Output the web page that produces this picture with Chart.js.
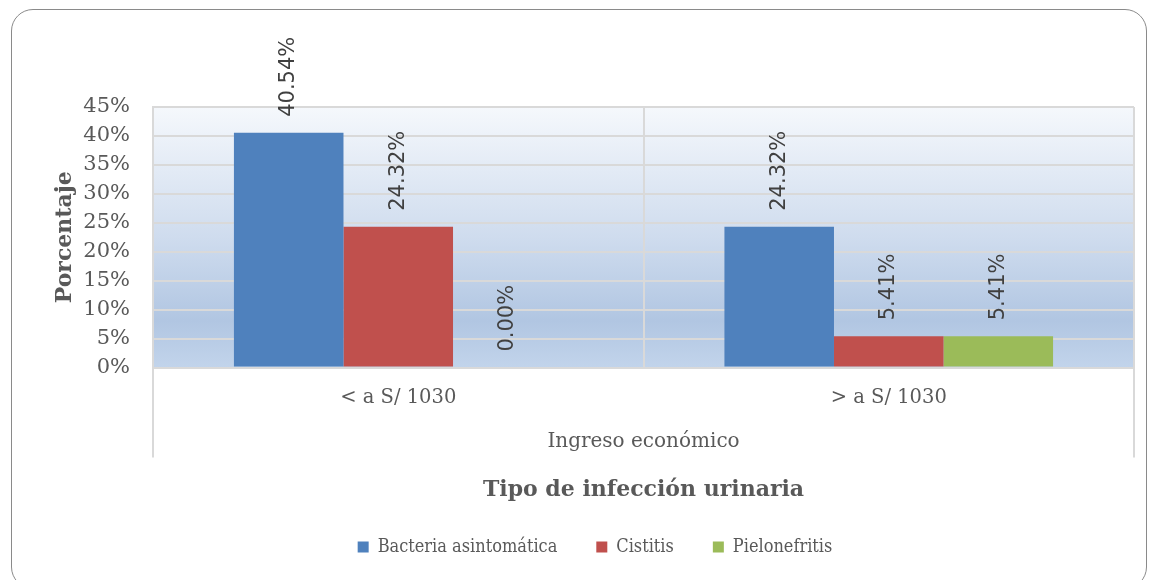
<!DOCTYPE html>
<html>
<head>
<meta charset="utf-8">
<script src="https://cdn.jsdelivr.net/npm/chart.js@4.4.1/dist/chart.umd.min.js"></script>
<style>
  html, body { margin: 0; padding: 0; background: #ffffff; }
  #wrap { position: relative; width: 1157px; height: 580px; overflow: hidden; }
  #frame { position: absolute; left: 11px; top: 9px; width: 1136px; height: 580px;
           border: 1.5px solid #8a8a8a; border-radius: 22px; box-sizing: border-box; pointer-events: none; }
  canvas { position: absolute; left: 0; top: 0; }
</style>
</head>
<body>
<div id="wrap">
  <canvas id="c" width="1157" height="580"></canvas>
  <div id="frame"></div>
</div>
<script>
// ---- data ----
const categories = ['< a S/ 1030', '> a S/ 1030'];
const seriesNames = ['Bacteria asintomática', 'Cistitis', 'Pielonefritis'];
const bacteriaValues = [40.54, 24.32];
const cistitisValues = [24.32, 5.41];
const pielonefritisValues = [0.00, 5.41];
const yTicks = [0, 5, 10, 15, 20, 25, 30, 35, 40, 45];
const xAxisTitle = 'Ingreso económico';
const yAxisTitle = 'Porcentaje';
const chartTitle = 'Tipo de infección urinaria';

const SERIF = "'DejaVu Serif', serif";
const SANS = "'DejaVu Sans', sans-serif";
const TEXT = '#595959';
const GRID = '#d9d9d9';

const bgPlugin = {
  id: 'plotBg',
  beforeDraw(chart) {
    const {ctx, chartArea: a} = chart;
    const g = ctx.createLinearGradient(0, a.top, 0, a.bottom);
    g.addColorStop(0, '#f5f8fc');
    g.addColorStop(0.5, '#cfdcee');
    g.addColorStop(0.82, '#b1c6e2');
    g.addColorStop(1, '#c2d4eb');
    ctx.save();
    ctx.fillStyle = g;
    ctx.fillRect(a.left, a.top, a.right - a.left, a.bottom - a.top);
    ctx.restore();
  },
  afterDraw(chart) {
    const {ctx, chartArea: a} = chart;
    const xs = chart.scales.x;
    ctx.save();
    ctx.strokeStyle = GRID;
    ctx.lineWidth = 2;
    ctx.beginPath();
    ctx.moveTo(a.left, a.bottom); ctx.lineTo(a.left, xs.bottom);
    ctx.moveTo(a.right, a.bottom); ctx.lineTo(a.right, xs.bottom);
    ctx.stroke();
    ctx.restore();
  }
};

const labelPlugin = {
  id: 'barLabels',
  afterDatasetsDraw(chart) {
    const {ctx} = chart;
    ctx.save();
    ctx.font = '21px ' + SANS;
    ctx.fillStyle = '#404040';
    ctx.textAlign = 'left';
    ctx.textBaseline = 'middle';
    chart.data.datasets.forEach((ds, di) => {
      const meta = chart.getDatasetMeta(di);
      meta.data.forEach((el, i) => {
        const v = ds.data[i];
        ctx.save();
        ctx.translate(el.x, el.y - 16);
        ctx.rotate(-Math.PI / 2);
        ctx.fillText(v.toFixed(2) + '%', 0, 0);
        ctx.restore();
      });
    });
    ctx.restore();
  }
};

new Chart(document.getElementById('c'), {
  type: 'bar',
  data: {
    labels: categories,
    datasets: [
      { label: seriesNames[0], data: bacteriaValues, backgroundColor: '#4f81bd' },
      { label: seriesNames[1], data: cistitisValues, backgroundColor: '#c0504d' },
      { label: seriesNames[2], data: pielonefritisValues, backgroundColor: '#9bbb59' }
    ]
  },
  options: {
    responsive: false,
    animation: false,
    devicePixelRatio: 1,
    layout: { padding: { top: 107, right: 23, bottom: 14, left: 56 } },
    datasets: { bar: { categoryPercentage: 0.67, barPercentage: 1.0 } },
    scales: {
      x: {
        grid: { color: GRID, lineWidth: 2, offset: true, drawTicks: false },
        border: { color: GRID, width: 2 },
        ticks: { color: TEXT, font: { family: SERIF, size: 19.5 }, padding: 19 },
        title: { display: true, text: xAxisTitle, color: TEXT,
                 font: { family: SERIF, size: 20 }, padding: { top: 0, bottom: 4 } },
        afterFit(s) { s.height = 90; }
      },
      y: {
        min: 0, max: 45,
        afterBuildTicks(s) { s.ticks = yTicks.map(v => ({ value: v })); },
        grid: { color: GRID, lineWidth: 2, drawTicks: false },
        border: { color: GRID, width: 2 },
        ticks: { color: TEXT, font: { family: SERIF, size: 21 }, padding: 23,
                 callback: v => v + '%' },
        title: { display: true, text: yAxisTitle, color: TEXT,
                 font: { family: SERIF, size: 22, weight: 'bold' }, padding: { top: -4, bottom: 0 } },
        afterFit(s) { s.width = 97; }
      }
    },
    plugins: {
      title: {
        display: true, text: chartTitle, position: 'bottom', weight: 500, fullSize: false,
        color: TEXT, font: { family: SERIF, size: 22, weight: 'bold' },
        padding: { top: 19, bottom: -4 }
      },
      legend: {
        position: 'bottom',
        labels: { color: TEXT, font: { family: SERIF, size: 18, weight: 'condensed' },
                  boxWidth: 11, boxHeight: 11, padding: 39 }
      },
      tooltip: { enabled: false }
    }
  },
  plugins: [bgPlugin, labelPlugin]
});
</script>
</body>
</html>
